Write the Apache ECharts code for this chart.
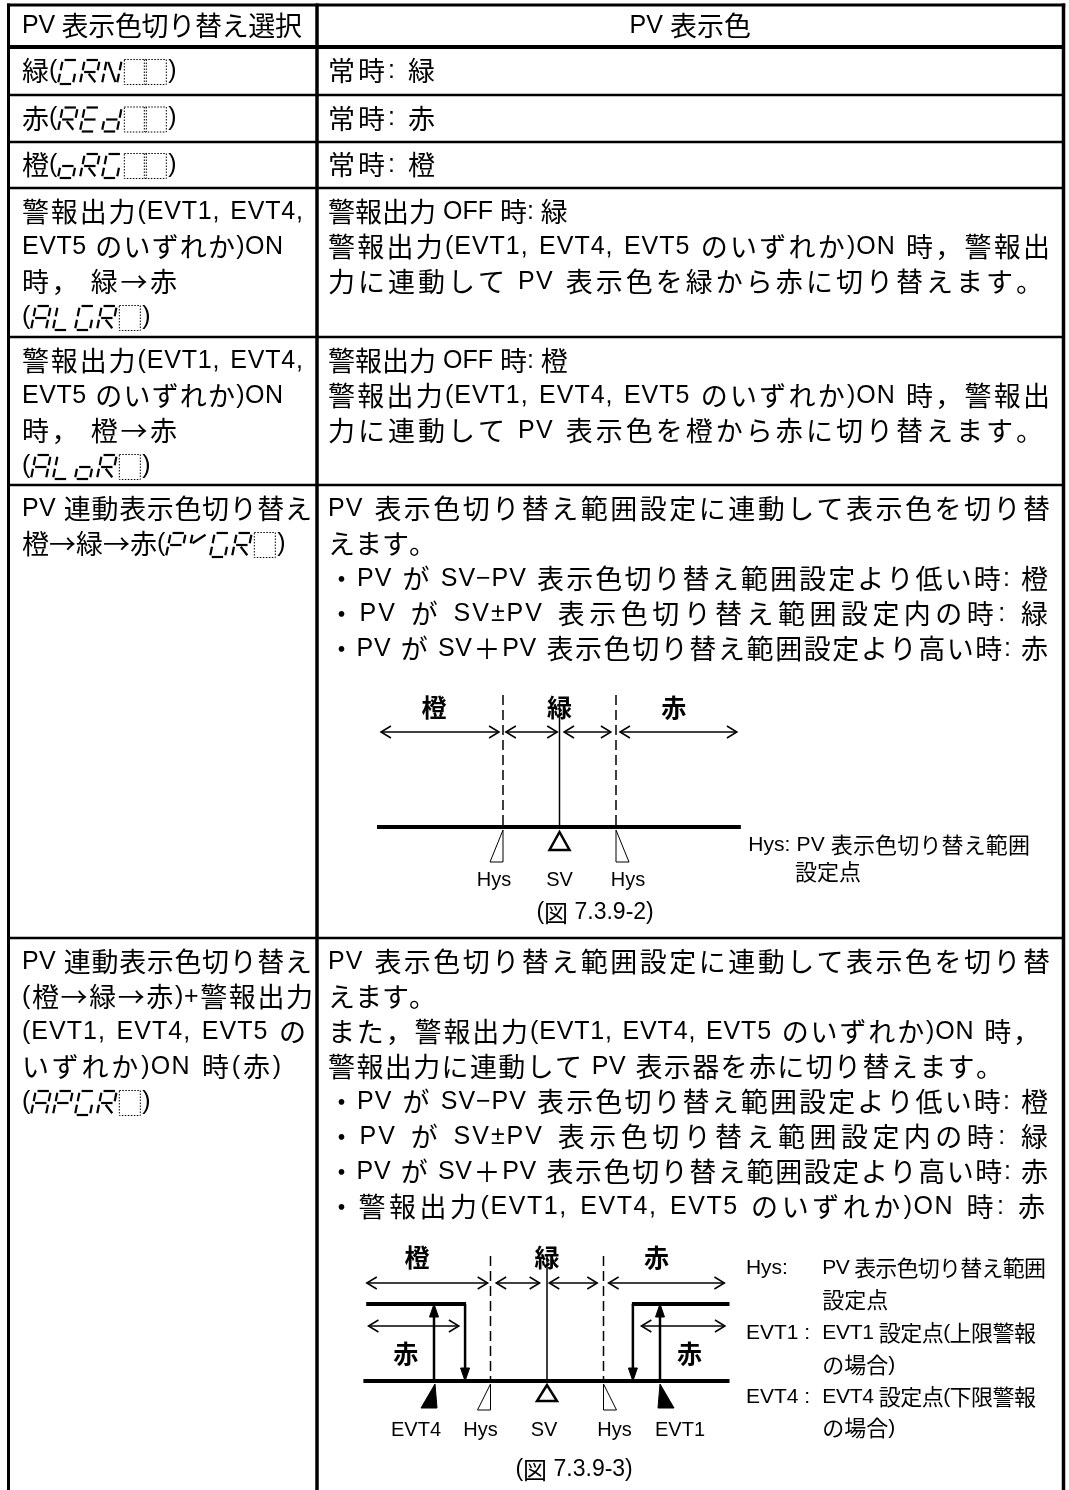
<!DOCTYPE html>
<html lang="ja">
<head>
<meta charset="utf-8">
<title>PV 表示色切り替え選択</title>
<script src="https://cdn.jsdelivr.net/npm/echarts@6/dist/echarts.min.js"></script>
<style>
html,body{margin:0;padding:0;background:#fff;}
#chart{width:1069px;height:1490px;}
</style>
</head>
<body>
<div id="chart"></div>
<script>
// ================= DATA =================
const headerLabels = ['PV 表示色切り替え選択', 'PV 表示色'];
// {CODE|n} = 7-segment code followed by n blank digit cells
const selectionLines = [
  ['緑({GRN|2})'],
  ['赤({REd|2})'],
  ['橙({oRG|2})'],
  ['警報出力(EVT1, EVT4,', 'EVT5 のいずれか)ON', '時， 緑→赤', '({ALGR|1})'],
  ['警報出力(EVT1, EVT4,', 'EVT5 のいずれか)ON', '時， 橙→赤', '({ALoR|1})'],
  ['PV 連動表示色切り替え', '橙→緑→赤({PVGR|1})'],
  ['PV 連動表示色切り替え', '(橙→緑→赤)+警報出力', '(EVT1, EVT4, EVT5 の', 'いずれか)ON 時(赤)', '({APGR|1})']
];
const colourLines = [
  ['常時: 緑'],
  ['常時: 赤'],
  ['常時: 橙'],
  ['警報出力 OFF 時: 緑', '警報出力(EVT1, EVT4, EVT5 のいずれか)ON 時，警報出', '力に連動して PV 表示色を緑から赤に切り替えます。'],
  ['警報出力 OFF 時: 橙', '警報出力(EVT1, EVT4, EVT5 のいずれか)ON 時，警報出', '力に連動して PV 表示色を橙から赤に切り替えます。'],
  ['PV 表示色切り替え範囲設定に連動して表示色を切り替', 'えます。',
   '・PV が SV−PV 表示色切り替え範囲設定より低い時: 橙',
   '・PV が SV±PV 表示色切り替え範囲設定内の時: 緑',
   '・PV が SV＋PV 表示色切り替え範囲設定より高い時: 赤'],
  ['PV 表示色切り替え範囲設定に連動して表示色を切り替', 'えます。',
   'また，警報出力(EVT1, EVT4, EVT5 のいずれか)ON 時，',
   '警報出力に連動して PV 表示器を赤に切り替えます。',
   '・PV が SV−PV 表示色切り替え範囲設定より低い時: 橙',
   '・PV が SV±PV 表示色切り替え範囲設定内の時: 緑',
   '・PV が SV＋PV 表示色切り替え範囲設定より高い時: 赤',
   '・警報出力(EVT1, EVT4, EVT5 のいずれか)ON 時: 赤']
];

// Diagram 1 (図 7.3.9-2) — positions in units of Hys around SV = 0
const d1ZoneLabels = ['橙', '緑', '赤'];
const d1ZoneX = [-2.22, 0, 2.02];
const d1MarkNames = ['Hys', 'SV', 'Hys'];
const d1MarkX = [-1, 0, 1];
const d1Spans = [[-3.16, -1.07], [-0.95, -0.04], [0.08, 0.91], [1.07, 3.14]];
const d1AxisExtent = [-3.23, 3.21];
const d1Legend = ['Hys: PV 表示色切り替え範囲', '設定点'];
const d1Caption = '(図 7.3.9-2)';

// Diagram 2 (図 7.3.9-3)
const d2ZoneLabels = ['橙', '緑', '赤'];
const d2ZoneX = [-2.3, 0, 1.94];
const d2MarkNames = ['EVT4', 'Hys', 'SV', 'Hys', 'EVT1'];
const d2MarkX = [-2, -1, 0, 1, 2];
const d2Spans = [[-3.19, -1.05], [-0.9, -0.13], [0.04, 0.89], [1.09, 3.14]];
const d2AxisExtent = [-3.25, 3.23];
const d2AlarmLevelLeft = [-3.2, -1.45];
const d2AlarmLevelRight = [1.52, 3.23];
const d2AlarmSpans = [[-3.16, -1.56], [1.67, 3.15]];
const d2AlarmLabel = '赤';
const d2AlarmLabelX = [-2.5, 2.52];
const d2Legend = [
  ['Hys:', 'PV 表示色切り替え範囲'],
  ['', '設定点'],
  ['EVT1 :', 'EVT1 設定点(上限警報'],
  ['', 'の場合)'],
  ['EVT4 :', 'EVT4 設定点(下限警報'],
  ['', 'の場合)']
];
const d2Caption = '(図 7.3.9-3)';

// ================= LAYOUT / STYLE =================
const X_LEFT = 8.5, X_DIV = 317, X_RIGHT = 1063.5, Y_TOP = 5, Y_HEAD = 47;
const ROW_TOP = [47, 95, 142, 188, 337, 485, 938];
const Y_END = 1490;
const LINE_H = 35, PAD_TOP = 24;
const LEFT_X = 22, RIGHT_X = 328;
const leftTargets = [[null], [null], [null], [303, 283, 177, null], [303, 283, 177, null], [312, null], [312, 313, 306, 281, null]];
const rightTargets = [[435], [435], [435], [null, 1050, 1043], [null, 1050, 1043], [1050, null, 1048, 1048, 1048], [1050, null, 1040, 1003, 1048, 1048, 1048, 1045]];
const BODY = { cjk: 27, lat: 25 };
const FF_LAT = '"Liberation Sans", Arial, sans-serif';
const FF_CJK = '"Noto Sans CJK JP", sans-serif';

const chart = echarts.init(document.getElementById('chart'), null, { renderer: 'canvas' });

// hidden grids giving the two diagrams their scales
const D = [
  { sv: 559.5, unit: 56.5, base: 827 },
  { sv: 547, unit: 56.5, base: 1381 }
];
chart.setOption({
  animation: false,
  grid: D.map(d => ({ left: d.sv - 4 * d.unit, width: 8 * d.unit, top: d.base - 200, height: 200, show: false })),
  xAxis: D.map((d, i) => ({ gridIndex: i, type: 'value', min: -4, max: 4, show: false })),
  yAxis: D.map((d, i) => ({ gridIndex: i, type: 'value', min: 0, max: 200, show: false })),
  series: []
});

const els = [];
const ctx = document.createElement('canvas').getContext('2d');
function isCJK(ch) { return /[\u2190-\u21ff\u3000-\u30ff\u3400-\u9fff\uff00-\uffef]/.test(ch); }
function fontOf(ch, o) {
  const cj = isCJK(ch);
  return (o.bold ? 'bold ' : '') + (cj ? o.cjk : o.lat) + 'px ' + (cj ? FF_CJK : FF_LAT);
}
function measure(text, o) {
  return Array.from(text).map(ch => { const f = fontOf(ch, o); ctx.font = f; return { ch, f, w: ctx.measureText(ch).width }; });
}
// draws text char by char; target = right edge to justify to (weighted inter-character spacing)
function textLine(text, x, y, o, target, align) {
  const items = measure(text, o);
  const W = items.reduce((s, i) => s + i.w, 0);
  const n = items.length;
  const slot = new Array(n).fill(0);
  if (target != null && n > 1) {
    const wt = [];
    let sum = 0;
    for (let k = 0; k < n - 1; k++) {
      const a = items[k].ch, b = items[k + 1].ch;
      const v = (isCJK(a) || isCJK(b) || a === ' ' || b === ' ') ? 1 : 0.45;
      wt.push(v); sum += v;
    }
    const g = (target - x - W) / sum;
    wt.forEach((v, k) => { slot[k] = g * v; });
  }
  let cx = x;
  if (align === 'center') cx = x - W / 2;
  if (align === 'right') cx = x - W;
  items.forEach((it, k) => {
    if (it.ch !== ' ') {
      els.push({ type: 'text', x: cx, y: y, silent: true,
        style: { text: it.ch, font: it.f, fill: '#000', align: 'left', verticalAlign: 'middle', textAlign: 'left', textVerticalAlign: 'middle' } });
    }
    cx += it.w + slot[k];
  });
  return cx;
}
function line(x1, y1, x2, y2, w, dash) {
  els.push({ type: 'line', silent: true, shape: { x1, y1, x2, y2 },
    style: { stroke: '#000', lineWidth: w, lineDash: dash || null, lineCap: 'butt' } });
}
function poly(points, fill, stroke, w) {
  els.push({ type: 'polygon', silent: true, shape: { points },
    style: { fill: fill, stroke: stroke, lineWidth: w || 1, lineJoin: 'miter' } });
}
function polyline(points, w) {
  els.push({ type: 'polyline', silent: true, shape: { points }, style: { stroke: '#000', lineWidth: w, fill: null } });
}

// ---- 7-segment glyphs ----
const SEG = { G: 'afedc', R: 'abfgeR', N: 'fbceN', E: 'afged', d: 'bcged', o: 'gecd', A: 'abcefg', L: 'fed', P: 'abfge', V: 'fV' };
function segGlyph(ch, x0, yc) {
  const w = 15, h = 24, g = 1.8, k = 0.2;
  const yt = yc - h / 2, ym = yc, yb = yc + h / 2;
  const S = {
    a: [[x0 + g, yt], [x0 + w - g, yt]], b: [[x0 + w, yt + g], [x0 + w, ym - g]], c: [[x0 + w, ym + g], [x0 + w, yb - g]],
    d: [[x0 + g, yb], [x0 + w - g, yb]], e: [[x0, ym + g], [x0, yb - g]], f: [[x0, yt + g], [x0, ym - g]],
    g: [[x0 + g, ym], [x0 + w - g, ym]], N: [[x0 + g, yt + g], [x0 + w - g, yb - g]],
    R: [[x0 + w * 0.45, ym + g], [x0 + w, yb - g]], V: [[x0 + g, ym - g], [x0 + w - g, yt + g]]
  };
  for (const s of SEG[ch]) {
    const [p, q] = S[s];
    line(p[0] + (yc - p[1]) * k, p[1], q[0] + (yc - q[1]) * k, q[1], 2.2);
  }
}
function segLine(text, x, y, o) {
  const parts = text.split(/(\{\w+\|\d\})/);
  let cx = x;
  parts.forEach(p => {
    const m = p.match(/^\{(\w+)\|(\d)\}$/);
    if (m) {
      cx += 3;
      for (const ch of m[1]) { segGlyph(ch, cx, y + 1); cx += 22; }
      const n = +m[2], cw = 21, bx = cx - 2, by = y - 11.5, bh = 25;
      els.push({ type: 'rect', silent: true, shape: { x: bx, y: by, width: cw * n, height: bh },
        style: { fill: null, stroke: '#000', lineWidth: 1, lineDash: [1.5, 1.5] } });
      for (let i = 1; i < n; i++) {
        line(bx + cw * i - 1, by, bx + cw * i - 1, by + bh, 1, [1.5, 1.5]);
        line(bx + cw * i + 1, by, bx + cw * i + 1, by + bh, 1, [1.5, 1.5]);
      }
      cx = bx + cw * n + 2;
    } else if (p) {
      cx = textLine(p, cx, y, o, null);
    }
  });
}

// ---- table text ----
textLine(headerLabels[0], LEFT_X, 26, BODY, 302);
textLine(headerLabels[1], (X_DIV + X_RIGHT) / 2, 26, BODY, null, 'center');
selectionLines.forEach((lines, r) => {
  const top = ROW_TOP[r], bot = ROW_TOP[r + 1] || Y_END;
  const y0 = r < 3 ? (top + bot) / 2 : top + PAD_TOP;
  lines.forEach((t, k) => {
    const y = y0 + k * LINE_H;
    if (t.indexOf('{') >= 0) segLine(t, LEFT_X, y, BODY);
    else textLine(t, LEFT_X, y, BODY, leftTargets[r][k]);
  });
  colourLines[r].forEach((t, k) => {
    textLine(t, RIGHT_X, y0 + k * LINE_H, BODY, rightTargets[r][k]);
  });
});

// ---- table rules ----
line(X_LEFT - 1.5, Y_TOP, X_RIGHT + 1.75, Y_TOP, 3);
line(X_LEFT, Y_TOP - 1.5, X_LEFT, Y_END, 3);
line(X_RIGHT, Y_TOP - 1.5, X_RIGHT, Y_END, 3.5);
line(X_DIV, Y_TOP - 1.5, X_DIV, Y_END, 3.5);
line(X_LEFT, Y_HEAD, X_RIGHT, Y_HEAD, 4);
ROW_TOP.slice(1).forEach(y => line(X_LEFT, y, X_RIGHT, y, 2.5));

// ---- diagrams ----
function P(i, x, y) { return chart.convertToPixel({ gridIndex: i }, [x, y]); }
function hArrow(i, x1, x2, y, w) {
  const a = P(i, x1, y), b = P(i, x2, y);
  line(a[0], a[1], b[0], b[1], w);
  polyline([[a[0] + 10, a[1] - 6], [a[0], a[1]], [a[0] + 10, a[1] + 6]], w);
  polyline([[b[0] - 10, b[1] - 6], [b[0], b[1]], [b[0] - 10, b[1] + 6]], w);
}
function vArrow(i, x, yFrom, yTo) {
  const a = P(i, x, yFrom), b = P(i, x, yTo);
  const dir = b[1] > a[1] ? 1 : -1;
  line(a[0], a[1], b[0], b[1] - dir * 10, 2.5);
  poly([[b[0], b[1]], [b[0] - 4.5, b[1] - dir * 13], [b[0] + 4.5, b[1] - dir * 13]], '#000', '#000', 1);
}
const ZONE = { cjk: 25, lat: 24, bold: true };
const SMALL = { cjk: 20, lat: 20 };
const LEG = { cjk: 22, lat: 21 };
const CAP = { cjk: 24, lat: 23 };
function hysMark(i, x, top, bot) {
  const p = P(i, x, top), q = P(i, x, bot);
  const s = x < 0 ? -1 : 1;
  poly([[p[0], p[1]], [q[0], q[1]], [q[0] + s * 13, q[1]]], '#fff', '#000', 1);
}
function svMark(i, x, top, bot, w) {
  const p = P(i, x, top), q = P(i, x, bot);
  poly([[p[0], p[1]], [q[0] - 10, q[1]], [q[0] + 10, q[1]]], '#fff', '#000', w);
}
function evtMark(i, x, top, bot) {
  const p = P(i, x, top), q = P(i, x, bot);
  if (x < 0) poly([[p[0] + 1, p[1]], [q[0] - 13, q[1]], [q[0] + 3, q[1]]], '#000', '#000', 1);
  else poly([[p[0], p[1]], [q[0] - 2, q[1]], [q[0] + 14, q[1]]], '#000', '#000', 1);
}

// Diagram 1
(function () {
  const i = 0;
  d1ZoneLabels.forEach((t, k) => { const p = P(i, d1ZoneX[k], 120); textLine(t, p[0], p[1], ZONE, null, 'center'); });
  [d1MarkX[0], d1MarkX[2]].forEach(x => { const a = P(i, x, 132), b = P(i, x, 0); line(a[0], a[1], b[0], b[1], 1.5, [10, 5]); });
  { const a = P(i, d1MarkX[1], 127), b = P(i, d1MarkX[1], 0); line(a[0], a[1], b[0], b[1], 1.5); }
  d1Spans.forEach(s => hArrow(i, s[0], s[1], 95, 1.5));
  { const a = P(i, d1AxisExtent[0], 0), b = P(i, d1AxisExtent[1], 0); line(a[0], a[1], b[0], b[1], 4); }
  hysMark(i, d1MarkX[0], -3, -35); hysMark(i, d1MarkX[2], -3, -35);
  svMark(i, d1MarkX[1], -5, -23, 2.5);
  const dx = [-9, 0, 12];
  d1MarkNames.forEach((t, k) => { const p = P(i, d1MarkX[k], -53); textLine(t, p[0] + dx[k], p[1], SMALL, null, 'center'); });
  { const p = P(i, 3.34, -18); textLine(d1Legend[0], p[0], p[1], LEG, 1030); }
  { const p = P(i, 4.17, -45); textLine(d1Legend[1], p[0], p[1], LEG, null); }
  { const p = P(i, 0.63, -86); textLine(d1Caption, p[0], p[1], CAP, null, 'center'); }
})();

// Diagram 2
(function () {
  const i = 1;
  d2ZoneLabels.forEach((t, k) => { const p = P(i, d2ZoneX[k], 124); textLine(t, p[0], p[1], ZONE, null, 'center'); });
  [d2MarkX[1], d2MarkX[3]].forEach(x => { const a = P(i, x, 125), b = P(i, x, 0); line(a[0], a[1], b[0], b[1], 1.5, [10, 5]); });
  { const a = P(i, d2MarkX[2], 125), b = P(i, d2MarkX[2], 0); line(a[0], a[1], b[0], b[1], 1.5); }
  d2Spans.forEach(s => hArrow(i, s[0], s[1], 98, 1.5));
  d2AlarmSpans.forEach(s => hArrow(i, s[0], s[1], 55, 1.5));
  { const a = P(i, d2AlarmLevelLeft[0], 77), b = P(i, d2AlarmLevelLeft[1], 77); line(a[0], a[1], b[0] + 1, b[1], 4); }
  { const a = P(i, d2AlarmLevelRight[0], 77), b = P(i, d2AlarmLevelRight[1], 77); line(a[0] - 1, a[1], b[0], b[1], 4); }
  vArrow(i, d2AlarmLevelLeft[1], 77, 0);
  vArrow(i, d2AlarmLevelRight[0], 77, 0);
  vArrow(i, d2MarkX[0], 0, 77);
  vArrow(i, d2MarkX[4], 0, 77);
  { const a = P(i, d2AxisExtent[0], 0), b = P(i, d2AxisExtent[1], 0); line(a[0], a[1], b[0], b[1], 4); }
  d2AlarmLabelX.forEach(x => { const p = P(i, x, 28); textLine(d2AlarmLabel, p[0], p[1], ZONE, null, 'center'); });
  evtMark(i, d2MarkX[0], -3, -27); evtMark(i, d2MarkX[4], -3, -27);
  hysMark(i, d2MarkX[1], -3, -29); hysMark(i, d2MarkX[3], -3, -29);
  svMark(i, d2MarkX[2], -4, -20, 2.5);
  const dx = [-18, -10, -3, 11, 20];
  d2MarkNames.forEach((t, k) => { const p = P(i, d2MarkX[k], -49); textLine(t, p[0] + dx[k], p[1], SMALL, null, 'center'); });
  const ly = [113, 81, 48, 16, -16, -47];
  const rt = [1046, null, 1036, null, 1036, null];
  d2Legend.forEach((row, k) => {
    if (row[0]) { const p = P(i, 3.52, ly[k]); textLine(row[0], p[0], p[1], LEG, null); }
    const q = P(i, 4.87, ly[k]); textLine(row[1], q[0], q[1], LEG, rt[k]);
  });
  { const p = P(i, 0.48, -89); textLine(d2Caption, p[0], p[1], CAP, null, 'center'); }
})();

chart.setOption({ graphic: { elements: els } });
</script>
</body>
</html>
